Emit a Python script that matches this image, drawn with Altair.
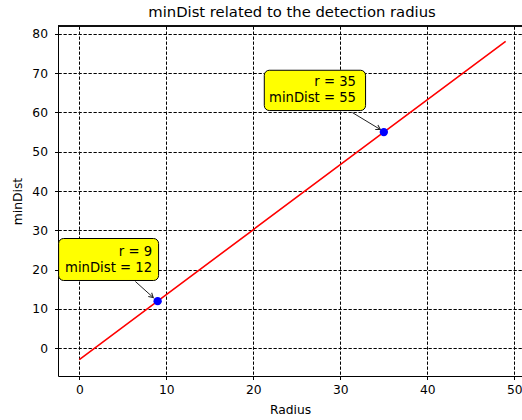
import altair as alt
import pandas as pd

# Line data
radius = [0, 9, 35, 49]
min_dist = [-2.9, 12, 55, 78.1]

# Marked points
marked_r = [9, 35]
marked_d = [12, 55]

# Annotation boxes (data units)
box_x0 = [-2.38, 21.26]
box_x1 = [9.11, 32.9]
box_y0 = [17.25, 60.49]
box_y1 = [27.93, 70.74]

# Annotation text anchors (right aligned, data units)
text_x = [8.36, 31.8]
text_y_top = [23.43, 66.85]
text_y_bot = [19.46, 62.6]

# Arrows (data units)
arrow_x0 = [6.44, 31.38]
arrow_y0 = [17.0, 59.98]
arrow_x1 = [8.5, 34.6]
arrow_y1 = [12.9, 55.66]
arrow_angle = [131.6, 121.3]

x_ticks = [0, 10, 20, 30, 40, 50]
y_ticks = [0, 10, 20, 30, 40, 50, 60, 70, 80]

FONT = "DejaVu Sans"
W, H = 464, 350
xdom = [-2.45, 50.88]
ydom = [-7.05, 82.0]

line_df = pd.DataFrame({"r": radius, "d": min_dist})
pts_df = pd.DataFrame({"r": marked_r, "d": marked_d})
box_df = pd.DataFrame({"x0": box_x0, "x1": box_x1, "y0": box_y0, "y1": box_y1})
txt_rows = []
for i in range(2):
    txt_rows.append({"x": text_x[i], "y": text_y_top[i], "t": f"r = {marked_r[i]}"})
    txt_rows.append({"x": text_x[i], "y": text_y_bot[i], "t": f"minDist = {marked_d[i]}"})
txt_df = pd.DataFrame(txt_rows)
arr_df = pd.DataFrame({"x0": arrow_x0, "y0": arrow_y0, "x1": arrow_x1, "y1": arrow_y1, "a": arrow_angle})

xs = alt.Scale(domain=xdom, nice=False, zero=False)
ys = alt.Scale(domain=ydom, nice=False, zero=False)

xaxis = alt.Axis(values=x_ticks, title="Radius", grid=True)
yaxis = alt.Axis(values=y_ticks, title="minDist", grid=True)

line = alt.Chart(line_df).mark_line(color="#ff0000", strokeWidth=1.6, clip=True).encode(
    x=alt.X("r:Q", scale=xs, axis=xaxis),
    y=alt.Y("d:Q", scale=ys, axis=yaxis),
)

pts = alt.Chart(pts_df).mark_circle(color="#0000ff", size=70, opacity=1).encode(
    x=alt.X("r:Q", scale=xs), y=alt.Y("d:Q", scale=ys)
)

boxes = alt.Chart(box_df).mark_rect(
    fill="#ffff00", stroke="#000000", strokeWidth=1, cornerRadius=5
).encode(
    x=alt.X("x0:Q", scale=xs), x2="x1:Q",
    y=alt.Y("y0:Q", scale=ys), y2="y1:Q",
)

texts = alt.Chart(txt_df).mark_text(
    align="right", baseline="alphabetic", font=FONT, fontSize=13.2, color="#000000"
).encode(
    x=alt.X("x:Q", scale=xs), y=alt.Y("y:Q", scale=ys), text="t:N"
)

arrows = alt.Chart(arr_df).mark_rule(color="#222222", strokeWidth=1).encode(
    x=alt.X("x0:Q", scale=xs), y=alt.Y("y0:Q", scale=ys), x2="x1:Q", y2="y1:Q"
)

heads = alt.Chart(arr_df).mark_point(
    shape="M-0.8,1.4L0,0L0.8,1.4", filled=False, stroke="#222222", strokeWidth=1,
    size=40, opacity=1
).encode(
    x=alt.X("x1:Q", scale=xs), y=alt.Y("y1:Q", scale=ys),
    angle=alt.Angle("a:Q", scale=None),
)

top_border = alt.Chart(line_df).mark_rule(color="#000000", strokeWidth=1).encode(
    x=alt.value(0), x2=alt.value(W), y=alt.value(0)
)

chart = alt.layer(line, arrows, heads, pts, boxes, texts, top_border).properties(
    width=W, height=H,
    title=alt.TitleParams(
        "minDist related to the detection radius",
        font=FONT, fontSize=14.8, fontWeight="normal", color="#000000",
        anchor="middle", offset=6, dx=2,
    ),
    autosize=alt.AutoSizeParams(type="none"),
    padding={"left": 58, "top": 26, "right": 0, "bottom": 44},
).configure_view(stroke=None).configure_axis(
    labelFont=FONT, labelFontSize=12.3, labelColor="#000000",
    titleFont=FONT, titleFontSize=12.3, titleFontWeight="normal", titleColor="#000000",
    domainColor="#000000", domainWidth=1,
    tickColor="#000000", tickSize=3.5, tickWidth=1,
    gridColor="#000000", gridOpacity=1, gridWidth=1, gridDash=[3.3, 1.7],
).configure_axisX(labelPadding=4, titlePadding=8, labelAngle=0).configure_axisY(
    labelPadding=7, titlePadding=7
)

chart.save("out.html", embed_options={"renderer": "svg", "actions": False})
